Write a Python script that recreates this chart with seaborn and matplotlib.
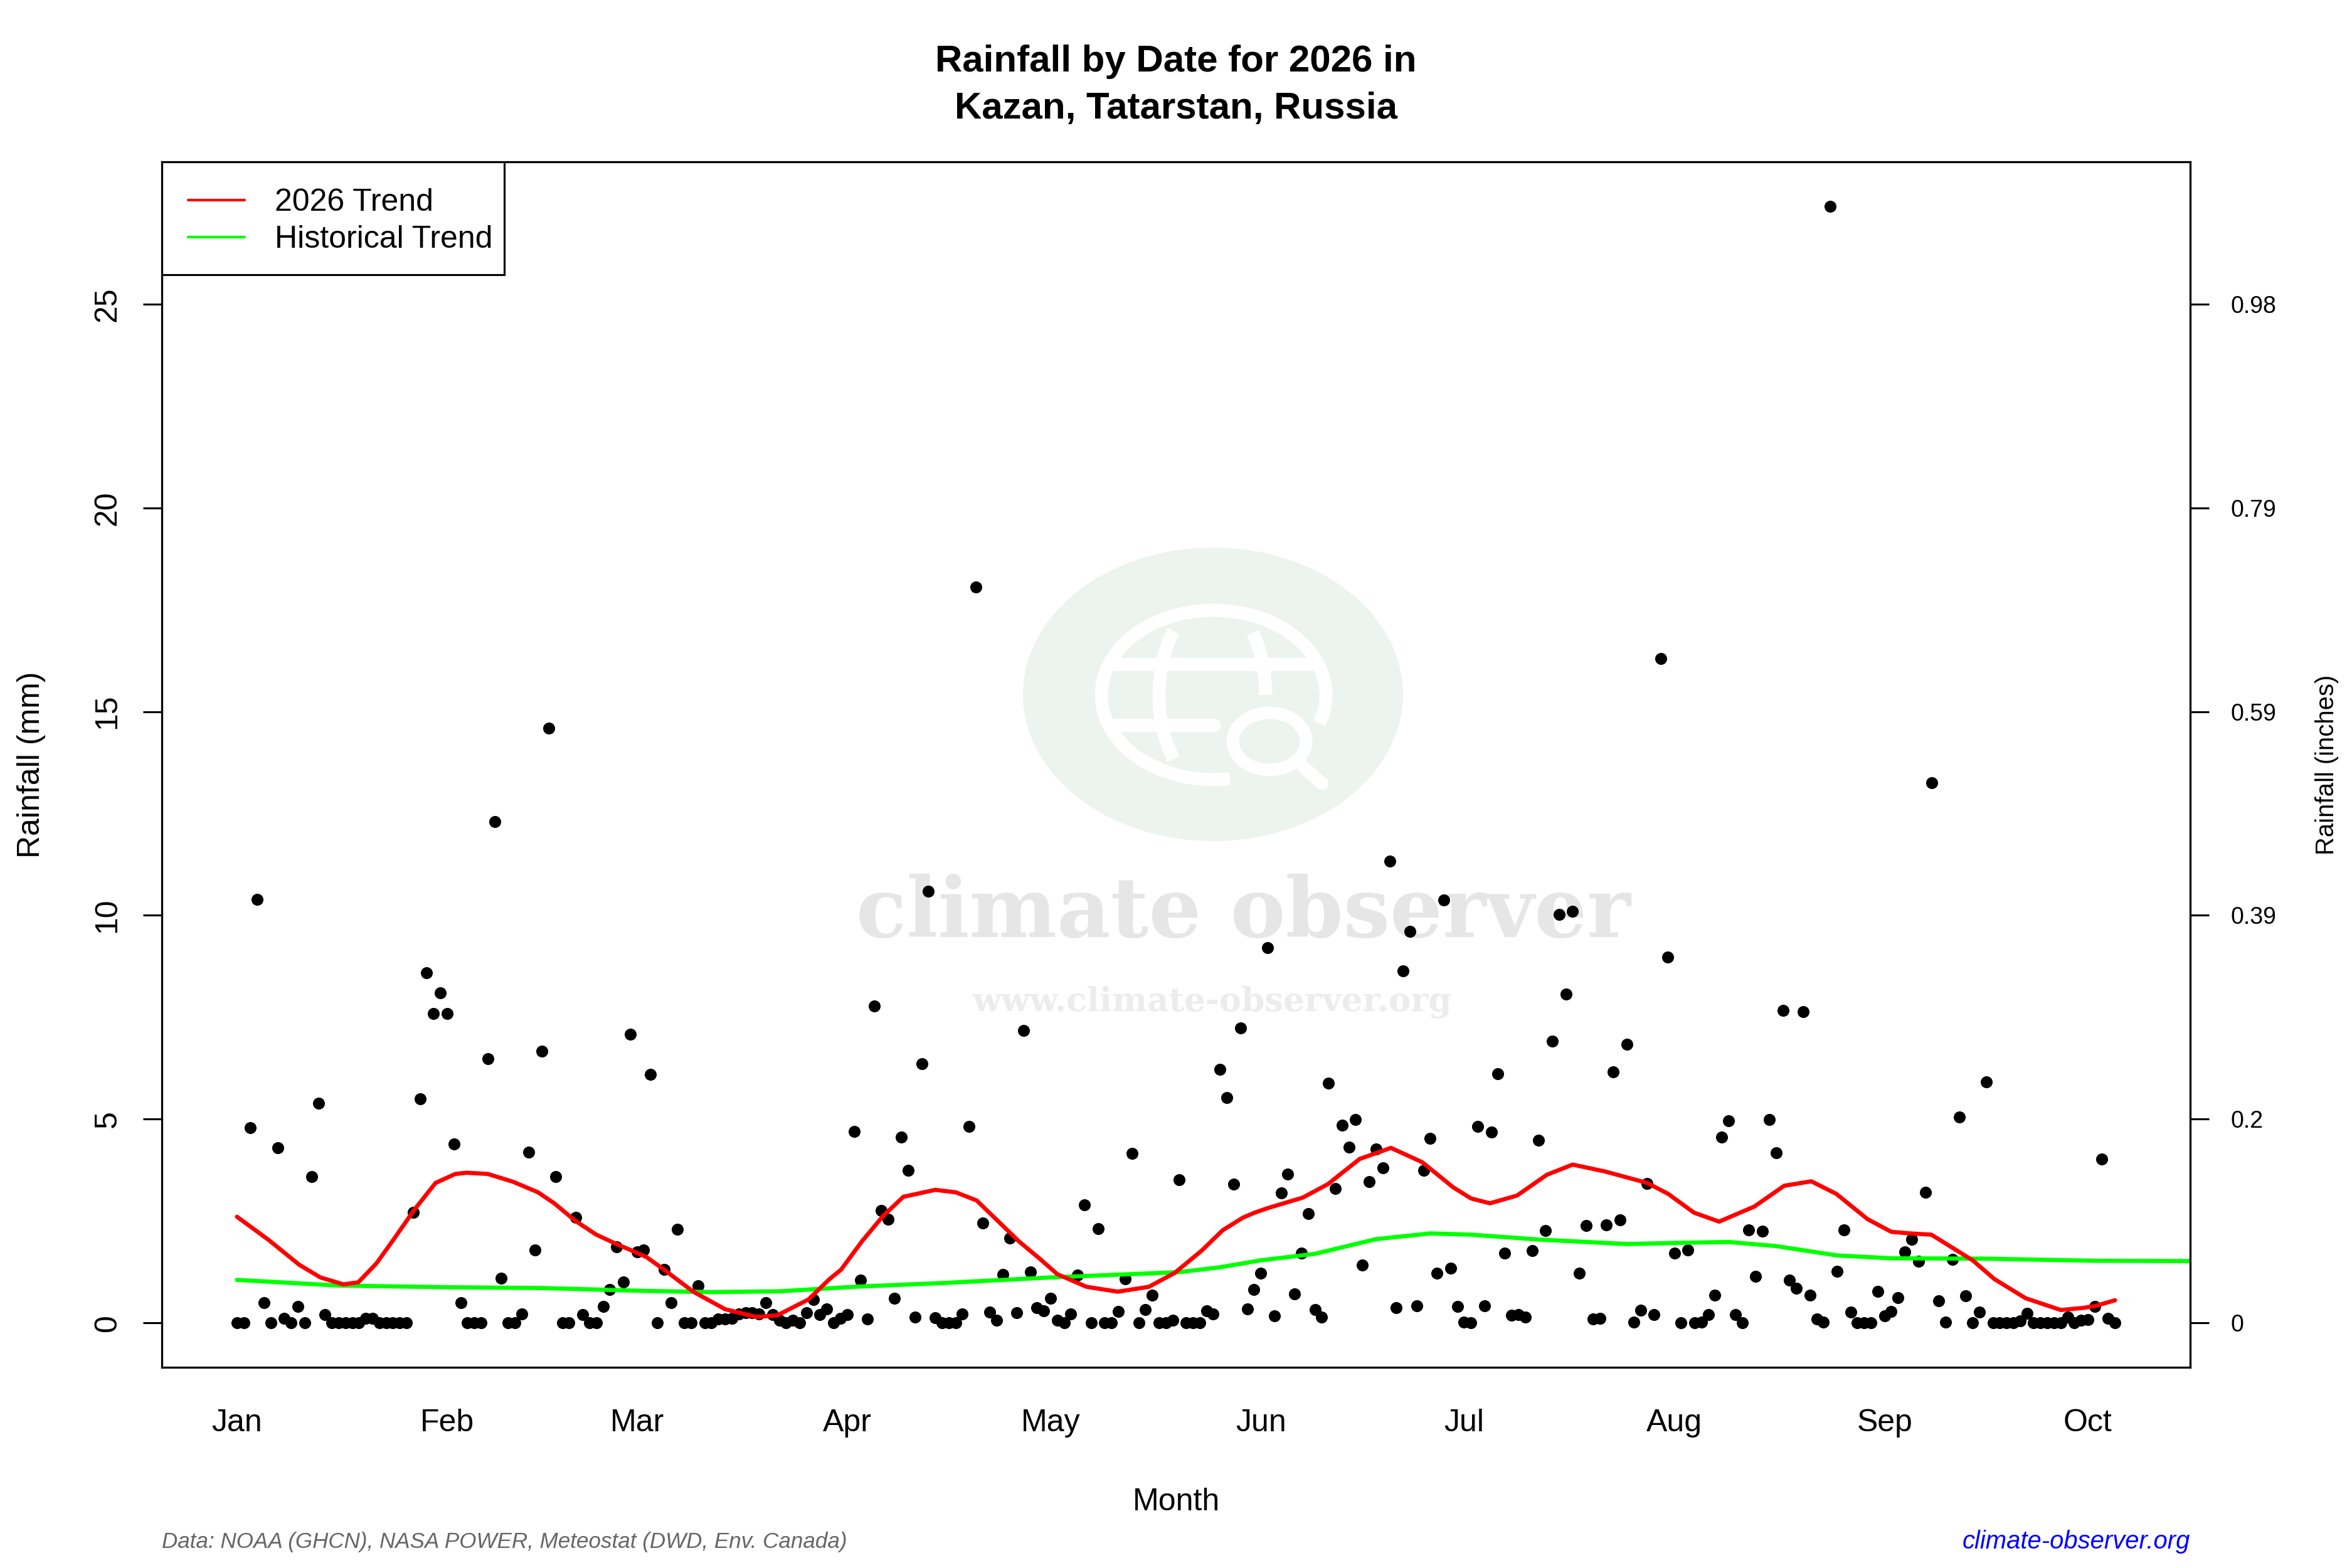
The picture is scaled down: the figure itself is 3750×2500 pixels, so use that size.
import numpy as np
import pandas as pd
import matplotlib
matplotlib.use("Agg")
import matplotlib.pyplot as plt
from matplotlib.patches import Ellipse, Arc, Rectangle
from matplotlib.lines import Line2D
from matplotlib.transforms import Affine2D
import seaborn as sns

# ---------------- data ----------------
START = "2026-01-01"

rain_jan = [0, 0, 4.79, 10.39, 0.49, 0, 4.29, 0.1, 0, 0.39, 0, 3.59, 5.39, 0.19, 0, 0,
            0, 0, 0, 0.1, 0.1, 0, 0, 0, 0, 0, 2.7, 5.49, 8.59, 7.59, 8.09]
rain_feb = [7.59, 4.39, 0.49, 0, 0, 0, 6.48, 12.3, 1.09, 0, 0, 0.22, 4.18, 1.78, 6.67, 14.6,
            3.59, 0, 0, 2.58, 0.19, 0, 0, 0.39, 0.82, 1.86, 1.0, 7.08]
rain_mar = [1.73, 1.78, 6.09, 0, 1.30, 0.49, 2.29, 0, 0, 0.9, 0, 0, 0.09, 0.09, 0.1, 0.22,
            0.24, 0.24, 0.22, 0.49, 0.19, 0.06, 0, 0.06, 0, 0.24, 0.57, 0.19, 0.33, 0, 0.1]
rain_apr = [0.19, 4.7, 1.05, 0.09, 7.77, 2.76, 2.53, 0.59, 4.56, 3.74, 0.14, 6.36, 10.59, 0.12,
            0, 0, 0, 0.22, 4.81, 18.05, 2.44, 0.26, 0.06, 1.19, 2.08, 0.24, 7.17, 1.24, 0.36, 0.29]
rain_may = [0.59, 0.06, 0, 0.22, 1.16, 2.89, 0, 2.31, 0, 0, 0.28, 1.07, 4.15, 0, 0.32, 0.67,
            0, 0, 0.06, 3.5, 0, 0, 0, 0.29, 0.22, 6.22, 5.53, 3.4, 7.24, 0.33, 0.82]
rain_jun = [1.22, 9.21, 0.16, 3.19, 3.64, 0.7, 1.71, 2.68, 0.32, 0.14, 5.88, 3.29, 4.84, 4.31,
            4.98, 1.42, 3.46, 4.26, 3.8, 11.33, 0.37, 8.64, 9.61, 0.41, 3.74, 4.52, 1.21, 10.37,
            1.33, 0.39]
rain_jul = [0.02, 0, 4.82, 0.41, 4.68, 6.11, 1.71, 0.18, 0.2, 0.14, 1.77, 4.47, 2.26, 6.91,
            10.02, 8.07, 10.09, 1.22, 2.39, 0.09, 0.1, 2.4, 6.16, 2.52, 6.83, 0.01, 0.31, 3.41,
            0.19, 16.3, 8.98]
rain_aug = [1.71, 0, 1.78, 0, 0.02, 0.19, 0.67, 4.56, 4.95, 0.19, 0, 2.27, 1.13, 2.25, 4.98,
            4.17, 7.67, 1.05, 0.85, 7.64, 0.67, 0.09, 0.02, 27.4, 1.26, 2.28, 0.26, 0, 0, 0, 0.76]
rain_sep = [0.16, 0.27, 0.62, 1.74, 2.05, 1.51, 3.2, 13.25, 0.53, 0.02, 1.55, 5.04, 0.66, 0,
            0.26, 5.91, 0, 0, 0, 0, 0.05, 0.23, 0, 0, 0, 0, 0, 0.14, 0, 0.06]
rain_oct = [0.08, 0.39, 4.02, 0.1, 0]

# 2026 trend (day offset from Jan 1, mm)
trend_day = [0, 4.6, 9.2, 12.3, 15.7, 17.9, 20.6, 23.1, 26.2, 29.3, 32.2, 33.9, 37.0, 40.7,
             44.4, 46.8, 49.9, 53.0, 56.1, 58.1, 60.4, 63.0, 67.3, 72.0, 76.6, 79.7, 84.3,
             87.4, 89.1, 92.2, 95.3, 98.3, 103.0, 106.0, 109.1, 112.2, 115.3, 118.4, 121.0,
             125.3, 129.9, 134.5, 138.3, 142.3, 145.4, 148.4, 150.1, 152.0, 157.2, 160.9,
             165.6, 170.2, 174.8, 179.4, 182.0, 184.8, 188.8, 193.2, 197.0, 201.8, 208.0,
             211.1, 214.9, 218.6, 223.8, 228.2, 232.2, 235.9, 240.5, 244.0, 246.8, 249.9,
             253.0, 256.0, 259.2, 263.8, 269.0, 272.2, 274.1, 277.0]
trend_mm = [2.60, 2.04, 1.42, 1.11, 0.94, 0.99, 1.46, 2.04, 2.78, 3.43, 3.65, 3.68, 3.65, 3.46,
            3.20, 2.93, 2.50, 2.16, 1.92, 1.78, 1.61, 1.30, 0.76, 0.33, 0.14, 0.18, 0.57,
            1.07, 1.30, 2.00, 2.62, 3.09, 3.26, 3.20, 3.00, 2.50, 2.00, 1.57, 1.19,
            0.88, 0.76, 0.88, 1.22, 1.77, 2.27, 2.58, 2.70, 2.81, 3.07, 3.40,
            4.02, 4.29, 3.94, 3.32, 3.05, 2.93, 3.12, 3.63, 3.88, 3.71, 3.43,
            3.16, 2.70, 2.48, 2.85, 3.36, 3.47, 3.16, 2.54, 2.23, 2.19, 2.16,
            1.84, 1.53, 1.07, 0.60, 0.31, 0.36, 0.41, 0.55]

# historical trend
hist_day = [0, 15, 31, 45, 60, 70, 80, 91, 105, 120, 139, 145, 151, 159, 168, 176, 182, 192,
            205, 213, 220, 227, 236, 244, 258, 274, 290]
hist_mm = [1.05, 0.91, 0.87, 0.85, 0.78, 0.75, 0.77, 0.88, 0.98, 1.11, 1.24, 1.36, 1.53, 1.69,
           2.05, 2.19, 2.16, 2.04, 1.93, 1.96, 1.98, 1.88, 1.65, 1.58, 1.57, 1.52, 1.51]

month_labels = ["Jan", "Feb", "Mar", "Apr", "May", "Jun", "Jul", "Aug", "Sep", "Oct"]
mm_ticks = [0, 5, 10, 15, 20, 25]

title_lines = ["Rainfall by Date for 2026 in", "Kazan, Tatarstan, Russia"]
legend_labels = ["2026 Trend", "Historical Trend"]
source_text = "Data: NOAA (GHCN), NASA POWER, Meteostat (DWD, Env. Canada)"
site_text = "climate-observer.org"

# ---------------- build frames ----------------
rain = rain_jan + rain_feb + rain_mar + rain_apr + rain_may + rain_jun + rain_jul + rain_aug + rain_sep + rain_oct
t0 = pd.Timestamp(START)
df = pd.DataFrame({"date": pd.date_range(START, periods=len(rain), freq="D"), "rain_mm": rain})
trend_df = pd.DataFrame({"date": t0 + pd.to_timedelta(trend_day, unit="D"), "mm": trend_mm})
hist_df = pd.DataFrame({"date": t0 + pd.to_timedelta(hist_day, unit="D"), "mm": hist_mm})

# ---------------- style ----------------
sns.set_style("white")
plt.rcParams["font.family"] = ["Liberation Sans", "DejaVu Sans"]
plt.rcParams["axes.linewidth"] = 0.75
plt.rcParams["text.color"] = "black"
plt.rcParams["axes.labelcolor"] = "black"
plt.rcParams["xtick.color"] = "black"
plt.rcParams["ytick.color"] = "black"

W, H = 3750, 2500
fig = plt.figure(figsize=(W / 300, H / 300), dpi=300)
L, R, T, B = 258, 3492, 258, 2180
ax = fig.add_axes([L / W, 1 - B / H, (R - L) / W, (B - T) / H])
ax.set_facecolor("white")

pix = Affine2D().scale(1 / W, 1 / H) + fig.transFigure
def P(x, y):
    return (x, H - y)

# ---------------- watermark ----------------
ax.add_patch(Ellipse(P(1934, 1107), 606, 468, transform=pix, facecolor="#EDF3EF",
                     edgecolor="none", zorder=0.5))
wlw = 5.0
ax.add_patch(Arc(P(1935, 1108), 358, 270, theta1=-15, theta2=281, transform=pix,
                 color="white", lw=wlw, zorder=0.6))
ax.add_patch(Arc(P(1935, 1108), 174, 300, theta1=122, theta2=238, transform=pix,
                 color="white", lw=wlw, zorder=0.6))
ax.add_patch(Arc(P(1935, 1108), 166, 300, theta1=0, theta2=58, transform=pix,
                 color="white", lw=wlw, zorder=0.6))
for (x1, x2, yy) in [(1772, 2097, 1059), (1772, 1936, 1156)]:
    ax.add_line(Line2D([x1, x2], [H - yy, H - yy], transform=pix, color="white", lw=wlw,
                       solid_capstyle="round", zorder=0.6))
ax.add_patch(Ellipse(P(2024, 1182), 117, 91, transform=pix, fill=False, edgecolor="white",
                     lw=4.8, zorder=0.6))
ax.add_line(Line2D([2078, 2108], [H - 1223, H - 1249], transform=pix, color="white", lw=wlw,
                   solid_capstyle="round", zorder=0.6))
ax.text(1982, H - 1494, "climate observer", transform=pix, ha="center", va="baseline",
        fontsize=31.7, fontweight="bold", family="DejaVu Serif", color="#E6E6E6", zorder=0.7)
ax.text(1933, H - 1612, "www.climate-observer.org", transform=pix, ha="center", va="baseline",
        fontsize=12.75, fontweight="bold", family="DejaVu Serif", color="#ECECEC", zorder=0.7)

# ---------------- data layers ----------------
sns.scatterplot(data=df, x="date", y="rain_mm", color="black", s=21, linewidth=0,
                ax=ax, zorder=2, legend=False)
sns.lineplot(data=hist_df, x="date", y="mm", color="#00FF00", lw=1.6, ax=ax,
             sort=False, estimator=None, zorder=3, label=legend_labels[1],
             solid_joinstyle="round", solid_capstyle="round")
sns.lineplot(data=trend_df, x="date", y="mm", color="#FF0000", lw=1.6, ax=ax,
             sort=False, estimator=None, zorder=4, label=legend_labels[0],
             solid_joinstyle="round", solid_capstyle="round")

# ---------------- axes ----------------
n = len(rain) - 1
xpad = 0.04 * n
ax.set_xlim(t0 - pd.Timedelta(days=xpad), t0 + pd.Timedelta(days=n + xpad))
ymax = max(rain)
ax.set_ylim(-0.04 * ymax, ymax * 1.04)

month_ticks = pd.date_range(START, periods=len(month_labels), freq="MS")
ax.set_xticks(month_ticks)
ax.set_xticklabels(month_labels)
ax.set_yticks(mm_ticks)
ax.set_yticklabels([str(v) for v in mm_ticks])

ax.tick_params(axis="both", direction="out", length=7.2, width=0.75, color="black",
               labelsize=12, labelcolor="black")
ax.tick_params(axis="x", pad=8.6)
ax.tick_params(axis="y", pad=8.0, labelrotation=90)
for lab in ax.get_yticklabels():
    lab.set_va("center")

for s in ax.spines.values():
    s.set_color("black")
    s.set_linewidth(0.75)
    s.set_visible(True)

ax.set_xlabel("Month", fontsize=12, color="black")
ax.xaxis.set_label_coords(0.5, (B - 2408) / (B - T))
ax.xaxis.label.set_va("baseline")
ax.set_ylabel("Rainfall (mm)", fontsize=12, color="black")
ax.yaxis.set_label_coords((50 - L) / (R - L), 0.5)
ax.yaxis.label.set_va("center")

ax2 = ax.twinx()
ax2.set_ylim(ax.get_ylim())
ax2.set_yticks(mm_ticks)
ax2.set_yticklabels(["{:g}".format(round(v / 25.4, 2)) for v in mm_ticks])
ax2.tick_params(axis="y", direction="out", length=7.2, width=0.75, color="black",
                labelsize=9, pad=8.2, labelcolor="black")
for s in ax2.spines.values():
    s.set_color("black")
    s.set_linewidth(0.75)
ax2.set_ylabel("Rainfall (inches)", fontsize=9.6, color="black")
ax2.yaxis.set_label_coords((3710 - L) / (R - L), 0.5)
ax2.yaxis.label.set_va("center")
ax2.grid(False)
ax.grid(False)

# ---------------- legend ----------------
ax.add_patch(Rectangle(P(L, 438), 804 - L, 438 - T, transform=pix, facecolor="white",
                       edgecolor="black", lw=0.75, zorder=9))
handles, labels = ax.get_legend_handles_labels()
order = [labels.index(legend_labels[0]), labels.index(legend_labels[1])]
leg = ax.legend([handles[i] for i in order], [labels[i] for i in order],
                loc="upper left", bbox_to_anchor=(0, 1), borderaxespad=0, frameon=False,
                fontsize=12, handlelength=1.8, handletextpad=0.95, borderpad=0.84,
                labelspacing=0.26)
leg.set_zorder(10)
for lh in leg.get_lines():
    lh.set_linewidth(1.0)

# ---------------- titles & footer ----------------
fig.text(0.5, 1 - 114.5 / H, title_lines[0], ha="center", va="baseline", fontsize=14.4,
         fontweight="bold", color="black")
fig.text(0.5, 1 - 188.5 / H, title_lines[1], ha="center", va="baseline", fontsize=14.4,
         fontweight="bold", color="black")
fig.text(L / W, 1 - 2468 / H, source_text, ha="left", va="baseline", fontsize=8.4,
         style="italic", color="#666666")
fig.text(R / W, 1 - 2469 / H, site_text, ha="right", va="baseline", fontsize=9.6,
         style="italic", color="#0000FF")

fig.savefig("out.png", dpi=300)
